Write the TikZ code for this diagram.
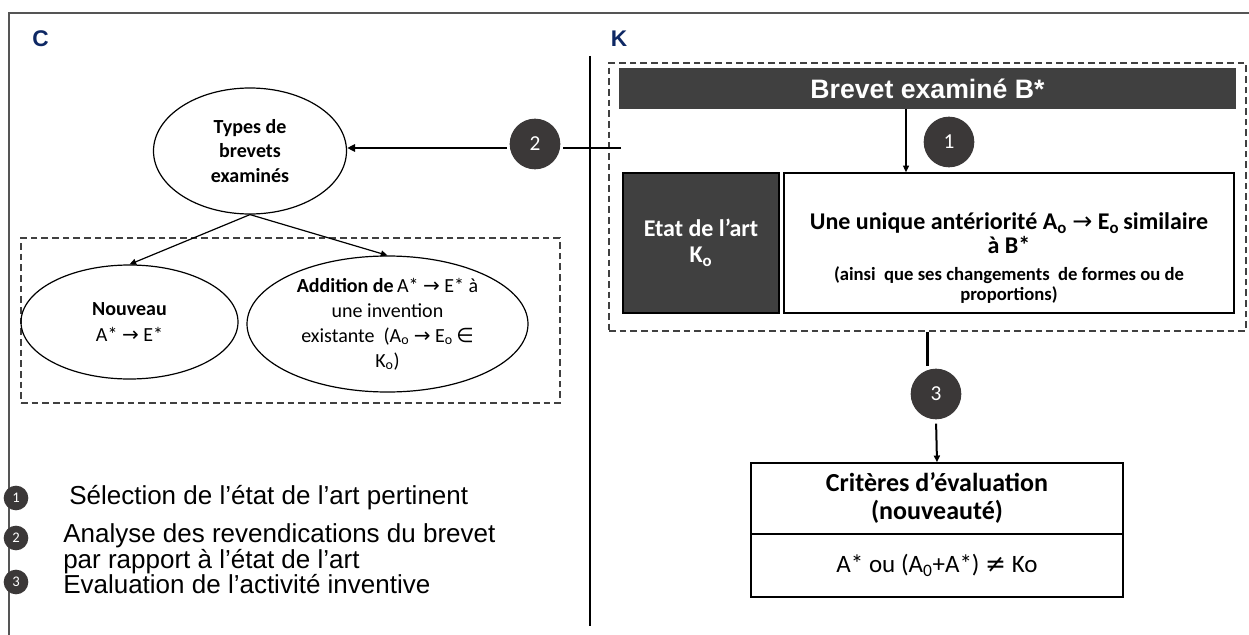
\documentclass[tikz,border=0pt]{standalone}
\usepackage{fontspec}
\setmainfont{Carlito}
\newfontfamily\arial{Liberation Sans}
\newfontfamily\symf{DejaVu Sans}
\usetikzlibrary{arrows.meta,shapes.geometric}
\definecolor{darkfill}{RGB}{64,64,64}
\definecolor{circfill}{RGB}{59,56,56}
\definecolor{navy}{RGB}{14,40,100}
\definecolor{framegray}{RGB}{85,85,85}
\newcommand{\arr}{{\symf\mdseries →}}
\begin{document}
\begin{tikzpicture}[x=0.75pt,y=-0.75pt,
  ell/.style={ellipse, draw=black, line width=0.9pt, inner sep=0pt, align=center},
  dashbox/.style={draw=black!75, line width=0.9pt, dash pattern=on 5pt off 3pt, inner sep=0pt},
  numc/.style={circle, fill=circfill, text=white, inner sep=0pt, minimum size=38pt, font=\fontsize{16pt}{16pt}\selectfont},
  lnum/.style={circle, fill=circfill, text=white, inner sep=0pt, minimum size=18.5pt, font=\fontsize{11pt}{11pt}\selectfont},
  tip/.style={-{Triangle[length=5pt,width=4.5pt]}},
  conn/.style={line width=0.9pt, tip},
  thickconn/.style={line width=1.8pt},
  box/.style={draw=black, line width=1.2pt, inner sep=0pt},
  legend/.style={anchor=west, align=left, inner sep=0pt, font=\arial\fontsize{19.5pt}{16.5pt}\selectfont},
  lab/.style={text=navy, inner sep=0pt, font=\arial\fontsize{17pt}{17pt}\selectfont\bfseries},
  ]
\useasboundingbox (0,0) rectangle (1249,635);
% frame and divider
\draw[framegray, line width=1.5pt] (9,635) -- (9,13) -- (1249,13);
\draw[line width=1.1pt] (590,56) -- (590,626);
\node[lab] (labC) at (40.5,39) {C};
\node[lab] (labK) at (619,39) {K};

% left part
\node[ell, minimum width=144.75pt, minimum height=94.5pt, font=\fontsize{15pt}{18.5pt}\selectfont\bfseries] (types) at (250,151) {Types de\\brevets\\examinés};
\node[dashbox, minimum width=404.25pt, minimum height=123.75pt] (cbox) at (290.5,320.5) {};
\node[ell, minimum width=162.75pt, minimum height=85.5pt, font=\fontsize{15pt}{19.5pt}\selectfont] (nouv) at (129.5,322) {\textbf{Nouveau}\\A* \arr{} E*};
\node[ell, minimum width=210.75pt, minimum height=102pt, font=\fontsize{15pt}{18.75pt}\selectfont] (addi) at (387.5,324) {\textbf{Addition de}\,A* \arr{} E* à\\une invention\\existante~ (A\textsubscript{o} \arr{} E\textsubscript{o}\,{\symf ∈}\\K\textsubscript{o})};
\draw[conn] (types.south) -- (nouv.north);
\draw[conn] (types.south) -- (addi.north);

% right part
\node[dashbox, minimum width=477.75pt, minimum height=201pt] (kbox) at (927.5,197) {};
\node[fill=darkfill, minimum width=462.75pt, minimum height=30.75pt, inner sep=0pt, text=white, font=\arial\fontsize{20pt}{20pt}\selectfont\bfseries] (hdr) at (927.5,88.5) {Brevet examiné B*};
\node[box, fill=darkfill, minimum width=117pt, minimum height=105pt, text=white, align=center, font=\fontsize{18pt}{19.5pt}\selectfont\bfseries] (etat) at (701,243) {Etat de l’art\\K\textsubscript{o}};
\node[box, minimum width=337.5pt, minimum height=105pt] (uniq) at (1009,243) {};
\node[align=center, inner sep=0pt, font=\fontsize{18pt}{17.5pt}\selectfont\bfseries] (uniqa) at (1009,233) {Une unique antériorité A\textsubscript{o} \arr{} E\textsubscript{o}\,similaire\\à B*};
\node[align=center, inner sep=0pt, font=\fontsize{14pt}{15pt}\selectfont\bfseries] (uniqb) at (1009,285) {(ainsi~ que ses changements~ de formes ou de\\proportions)};

\node[numc] (n1) at (949,142) {1};
\coordinate (a1) at (906,0);
\draw[line width=1.1pt, tip] (hdr.south -| a1) -- (uniq.north -| a1);

\node[numc] (n2) at (535,144) {2};
\coordinate (k2) at (621,148);
\draw[thickconn, shorten >=2pt] (k2) -- (k2 -| n2.east);
\draw[thickconn, -{Triangle[length=6pt,width=5.5pt]}, shorten <=2pt] (k2 -| n2.west) -- (k2 -| types.east);

\node[numc] (n3) at (936,394) {3};
\node[box, minimum width=279pt, minimum height=53.25pt, align=center, font=\fontsize{19.5pt}{21pt}\selectfont\bfseries] (crit) at (937,498.5) {Critères d’évaluation\\(nouveauté)};
\node[box, minimum width=279pt, minimum height=47.25pt, font=\fontsize{18.75pt}{21pt}\selectfont] (critb) at (937,565.5) {A* ou (A\textsubscript{0}+A*) {\symf ≠} Ko};
\draw[thickconn, shorten >=2pt] (kbox.south) -- (kbox.south |- n3.north);
\draw[line width=1.5pt, tip, shorten <=3pt] (n3.south) -- (crit.north);

% legend
\node[lnum] (l1) at (16,498) {1};
\node[legend] (t1) at (69,498) {Sélection de l’état de l’art pertinent};
\node[lnum] (l2) at (16,538) {2};
\node[legend] (t2) at (63,549) {Analyse des revendications du brevet\\par rapport à l’état de l’art};
\node[lnum] (l3) at (16,582) {3};
\node[legend] (t3) at (63,584) {Evaluation de l’activité inventive};
\end{tikzpicture}
\end{document}
